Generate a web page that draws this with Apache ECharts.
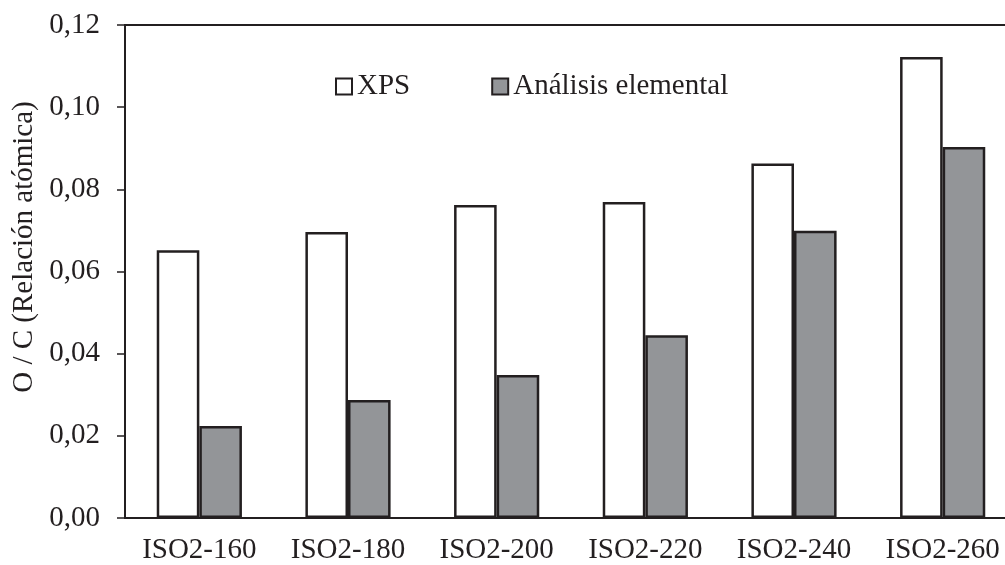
<!DOCTYPE html>
<html>
<head>
<meta charset="utf-8">
<script src="https://cdn.jsdelivr.net/npm/echarts@6/dist/echarts.min.js"></script>
<style>html,body{margin:0;padding:0;background:#fff;}#c{width:1005px;height:565px;}</style>
</head>
<body>
<div id="c"></div>
<script>
var categories = ['ISO2-160', 'ISO2-180', 'ISO2-200', 'ISO2-220', 'ISO2-240', 'ISO2-260'];
var xpsValues = [0.0652, 0.0696, 0.0762, 0.0769, 0.0863, 0.1122];
var elementalValues = [0.0224, 0.0287, 0.0348, 0.0445, 0.0699, 0.0903];
var seriesNames = ['XPS', 'Análisis elemental'];
var yAxisName = 'O / C (Relación atómica)';

var FONT = '"Liberation Serif", "Times New Roman", serif';
var FS = 29;
var INK = '#231f20';
var chart = echarts.init(document.getElementById('c'), null, {renderer: 'canvas'});
chart.setOption({
  animation: false,
  backgroundColor: '#ffffff',
  grid: {left: 125, top: 25, width: 892, height: 493, outerBoundsMode: 'none', containLabel: false,
         show: true, borderColor: INK, borderWidth: 2, backgroundColor: 'transparent'},
  legend: {
    left: 335, top: 72, padding: 0, itemWidth: 16, itemHeight: 16, itemGap: 81,
    textStyle: {fontFamily: FONT, fontSize: FS, color: INK},
    data: [
      {name: seriesNames[0], icon: 'rect'},
      {name: seriesNames[1], icon: 'rect'}
    ]
  },
  graphic: [{
    type: 'text', rotation: Math.PI / 2,
    x: 24, y: 247,
    style: {text: yAxisName, fontFamily: FONT, fontSize: FS, fill: INK, align: 'center', verticalAlign: 'middle'}
  }],
  xAxis: {
    type: 'category', data: categories,
    axisLine: {show: true, lineStyle: {color: INK, width: 2}},
    axisTick: {show: false},
    axisLabel: {fontFamily: FONT, fontSize: FS, color: INK, margin: 18, interval: 0},
    splitLine: {show: false}
  },
  yAxis: {
    type: 'value', min: 0, max: 0.12, interval: 0.02,
    axisLine: {show: true, lineStyle: {color: INK, width: 2}},
    axisTick: {show: true, inside: false, length: 8, lineStyle: {color: INK, width: 1.5}},
    axisLabel: {fontFamily: FONT, fontSize: FS, color: INK, margin: 25,
      formatter: function (v) { return v.toFixed(2).replace('.', ','); }},
    splitLine: {show: false}
  },
  series: [
    {name: seriesNames[0], type: 'bar', data: xpsValues, barGap: '0%', barCategoryGap: '42.7%',
     itemStyle: {color: '#ffffff', borderColor: INK, borderWidth: 2.5}},
    {name: seriesNames[1], type: 'bar', data: elementalValues,
     itemStyle: {color: '#939598', borderColor: INK, borderWidth: 2.5}}
  ]
});
</script>
</body>
</html>
